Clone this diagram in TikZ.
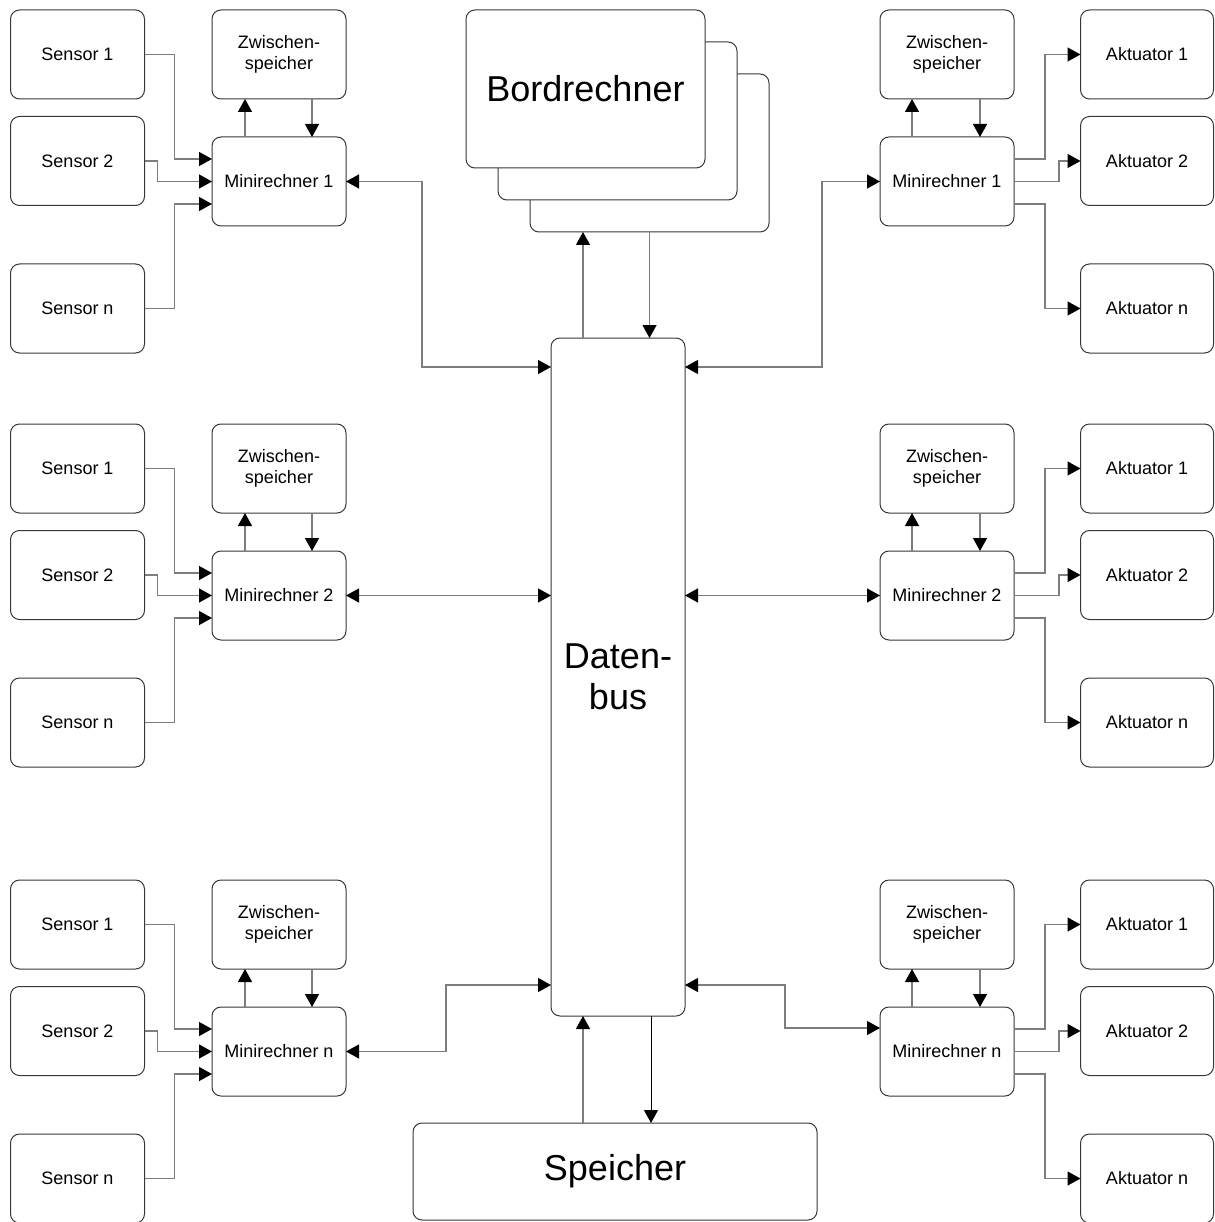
\documentclass[tikz,border=0pt]{standalone}
\usepackage{fontspec}
\setmainfont{Liberation Sans}
\usetikzlibrary{arrows.meta}
\definecolor{boxline}{RGB}{55,55,55}
\definecolor{wirec}{RGB}{125,125,125}
\begin{document}
\begin{tikzpicture}[x=1pt,y=-1pt,
  >={Triangle[length=13pt,width=14pt,color=black]},
  box/.style={draw=boxline, line width=1pt, rounded corners=9pt, fill=white,
    inner sep=0pt, outer sep=0pt, align=center,
    minimum width=134pt, minimum height=89pt,
    font=\fontsize{18}{21}\selectfont},
  bigbox/.style={box, font=\fontsize{36}{41}\selectfont},
  wire/.style={draw=wirec, line width=1.3pt},
]
\useasboundingbox (0,0) rectangle (1214,1222);

% on-board computer, drawn as a stack of three cards
\node[bigbox, minimum width=239pt, minimum height=158pt] (br3) at (649.5,153) {};
\node[bigbox, minimum width=239pt, minimum height=158pt] (br2) at (617.5,121) {};
\node[bigbox, minimum width=239pt, minimum height=158pt] (br1) at (585.5,89) {Bordrechner};

% data bus and main memory
\node[bigbox, minimum width=134pt, minimum height=678pt] (bus) at (618,677) {Daten-\\bus};
\node[bigbox, minimum width=404pt, minimum height=97pt] (sp) at (615,1171.5) {Speicher};

% sensor side: three groups of sensors, buffer and mini computer
\foreach \dy/\k/\lab in {0/a/1,414/b/2,870/c/n}{
  \node[box] (s1\k) at (77.5,{54.5+\dy}) {Sensor 1};
  \node[box] (s2\k) at (77.5,{161+\dy}) {Sensor 2};
  \node[box] (sn\k) at (77.5,{308.5+\dy}) {Sensor n};
  \node[box] (zl\k) at (279,{54.5+\dy}) {Zwischen-\\speicher};
  \node[box] (ml\k) at (279,{181.5+\dy}) {Minirechner \lab};
  \draw[wire,->] (s1\k.east) -- ++(30,0) |- ([yshift=22.5pt]ml\k.west);
  \draw[wire,->] (s2\k.east) -- ++(13,0) |- (ml\k.west);
  \draw[wire,->] (sn\k.east) -- ++(30,0) |- ([yshift=-22.5pt]ml\k.west);
  \draw[wire,->] ([xshift=-34pt]ml\k.north) -- ([xshift=-34pt]zl\k.south);
  \draw[wire,->] ([xshift=33pt]zl\k.south) -- ([xshift=33pt]ml\k.north);
}

% actuator side: three groups of buffer, mini computer and actuators
\foreach \dy/\k/\lab in {0/a/1,414/b/2,870/c/n}{
  \node[box] (zr\k) at (947,{54.5+\dy}) {Zwischen-\\speicher};
  \node[box] (mr\k) at (947,{181.5+\dy}) {Minirechner \lab};
  \node[box, minimum width=133pt] (a1\k) at (1147,{54.5+\dy}) {Aktuator 1};
  \node[box, minimum width=133pt] (a2\k) at (1147,{161+\dy}) {Aktuator 2};
  \node[box, minimum width=133pt] (an\k) at (1147,{308.5+\dy}) {Aktuator n};
  \draw[wire,->] ([yshift=22.5pt]mr\k.east) -- ++(31,0) |- (a1\k.west);
  \draw[wire,->] (mr\k.east) -- ++(45,0) |- (a2\k.west);
  \draw[wire,->] ([yshift=-22.5pt]mr\k.east) -- ++(31,0) |- (an\k.west);
  \draw[wire,->] ([xshift=-35pt]mr\k.north) -- ([xshift=-35pt]zr\k.south);
  \draw[wire,->] ([xshift=33pt]zr\k.south) -- ([xshift=33pt]mr\k.north);
}

% mini computers to the data bus
\draw[wire,<->] (mla.east) -- ++(76,0) |- ([yshift=-29pt]bus.north west);
\draw[wire,<->] (mlb.east) -- (mlb.east -| bus.west);
\draw[wire,<->] (mlc.east) -- ++(100,0) |- ([yshift=31pt]bus.south west);
\draw[wire,<->] (mra.west) -- ++(-58,0) |- ([yshift=-29pt]bus.north east);
\draw[wire,<->] (mrb.west) -- (mrb.west -| bus.east);
\draw[wire,<->] ([yshift=23.5pt]mrc.west) -- ++(-95,0) |- ([yshift=31pt]bus.south east);

% bus to on-board computer and memory
\coordinate (bt) at ([xshift=-35pt]bus.north);
\draw[wire,->] (bt) -- (bt |- br3.south);
\draw[wire,->] (br3.south) -- (br3.south |- bus.north);
\coordinate (bb) at ([xshift=-35pt]bus.south);
\draw[wire,->] (bb |- sp.north) -- (bb);
\coordinate (bd) at ([xshift=33pt]bus.south);
\draw[->, draw=black, line width=1pt] (bd) -- (bd |- sp.north);
\end{tikzpicture}
\end{document}
